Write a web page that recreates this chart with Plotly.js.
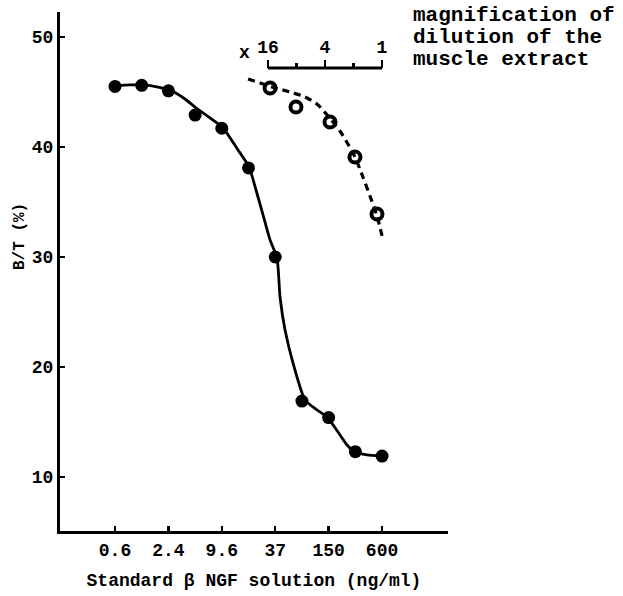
<!DOCTYPE html>
<html>
<head>
<meta charset="utf-8">
<script src="https://cdn.plot.ly/plotly-3.0.1.min.js"></script>
<style>html,body{margin:0;padding:0;background:#fff;}#chart{width:623px;height:596px;}</style>
</head>
<body>
<div id="chart"></div>
<script>
// Standard beta-NGF points (ng/ml, B/T %)
const stdX = [0.6, 1.2, 2.4, 4.8, 9.6, 19.2, 38.4, 76.8, 153.6, 307.2, 614.4];
const stdY = [45.5, 45.6, 45.1, 42.9, 41.7, 38.1, 30.0, 16.9, 15.4, 12.3, 11.9];
// fitted standard curve
const fitX = [0.616, 0.886, 1.241, 1.832, 2.635, 3.693, 4.913, 7.068, 9.90, 14.62, 19.45, 23.32, 27.97, 33.56, 40.23, 43.49, 49.53, 60.95, 83.24, 113.6, 147.3, 206.4, 247.6, 304.8, 416.0, 598.5];
const fitY = [45.55, 45.64, 45.64, 45.45, 45.09, 44.36, 43.55, 42.64, 41.73, 39.73, 38.18, 36.09, 33.82, 31.55, 29.91, 26.36, 23.36, 20.36, 17.0, 16.09, 15.45, 13.82, 12.91, 12.27, 12.0, 11.91];
// muscle extract dilution points (magnification of dilution, B/T %)
const dilX = [15.2, 8.1, 3.54, 1.93, 1.13];
const dilY = [45.36, 43.64, 42.27, 39.09, 33.91];
// dashed curve for the extract
const dilFitX = [26.0, 19.43, 14.52, 9.37, 6.51, 4.74, 3.72, 2.78, 2.29, 1.93, 1.59, 1.34, 1.13, 0.976];
const dilFitY = [46.18, 45.82, 45.45, 45.0, 44.55, 43.82, 42.82, 41.45, 40.27, 39.09, 37.27, 35.55, 33.73, 31.55];
// tick labels
const xTickVals = [0.6, 2.4, 9.6, 38.4, 153.6, 614.4];
const xTickText = ['0.6', '2.4', '9.6', '37', '150', '600'];
const yTickVals = [10, 20, 30, 40, 50];
const dilMajor = [16, 4, 1];
const dilMajorText = ['16', '4', '1'];
const dilMinor = [8, 2];

const FONT = 'Liberation Mono, Courier New, monospace';
const ink = '#000';

const traces = [
  {x: fitX, y: fitY, mode: 'lines', line: {color: ink, width: 2.8, shape: 'spline', smoothing: 0.6}, hoverinfo: 'skip', xaxis: 'x', yaxis: 'y'},
  {x: stdX, y: stdY, mode: 'markers', marker: {color: ink, size: 13, symbol: 'circle'}, cliponaxis: false, xaxis: 'x', yaxis: 'y'},
  {x: dilFitX, y: dilFitY, mode: 'lines', line: {color: ink, width: 3.2, dash: '7px,5px', shape: 'spline', smoothing: 0.7}, hoverinfo: 'skip', xaxis: 'x2', yaxis: 'y'},
  {x: dilX, y: dilY, mode: 'markers', marker: {color: ink, size: 11, symbol: 'circle-open', line: {color: ink, width: 4}}, cliponaxis: false, xaxis: 'x2', yaxis: 'y'}
];

const axPos = 0.892;
const layout = {
  width: 623, height: 596,
  margin: {l: 60, r: 175, t: 12, b: 65},
  paper_bgcolor: '#fff', plot_bgcolor: 'rgba(0,0,0,0)',
  showlegend: false,
  font: {family: FONT, color: ink, size: 18, weight: 'bold'},
  xaxis: {
    type: 'log', range: [-0.842, 3.532],
    tickmode: 'array', tickvals: xTickVals, ticktext: xTickText,
    ticks: 'inside', ticklen: 5, tickwidth: 2.5, tickcolor: ink,
    showline: true, linewidth: 3, linecolor: ink,
    showgrid: false, zeroline: false,
    tickfont: {family: FONT, size: 18, weight: 'bold'},
    title: {text: 'Standard β NGF solution (ng/ml)', font: {family: FONT, size: 18, weight: 'bold'}, standoff: 14},
    domain: [0, 1]
  },
  xaxis2: {
    type: 'log', range: [1.4999, -0.1373],
    domain: [0.4639, 0.8634],
    anchor: 'free', position: axPos, side: 'top',
    tickmode: 'array', tickvals: dilMajor, ticktext: dilMajorText,
    ticks: 'outside', ticklen: 8, tickwidth: 2.5, tickcolor: ink,
    minor: {tickmode: 'array', tickvals: dilMinor, ticks: 'outside', ticklen: 5, tickwidth: 2.5, tickcolor: ink, showgrid: false},
    showline: false, showgrid: false, zeroline: false,
    tickfont: {family: FONT, size: 18, weight: 'bold'},
    ticklabelstandoff: 0
  },
  yaxis: {
    range: [5.09, 52.27],
    tickmode: 'array', tickvals: yTickVals,
    ticks: 'inside', ticklen: 5, tickwidth: 2.5, tickcolor: ink,
    showline: true, linewidth: 3, linecolor: ink,
    showgrid: false, zeroline: false,
    tickfont: {family: FONT, size: 18, weight: 'bold'}
  },
  shapes: [
    {type: 'line', xref: 'x2', yref: 'paper', x0: dilMajor[0], x1: dilMajor[dilMajor.length - 1], y0: axPos, y1: axPos, line: {color: ink, width: 3}}
  ],
  annotations: [
    {xref: 'paper', yref: 'paper', x: (20 - 60) / 388, y: (531 - 237) / 519, text: 'B/T (%)', textangle: -90, showarrow: false, xanchor: 'center', yanchor: 'middle', font: {family: FONT, size: 16, weight: 'bold'}},
    {xref: 'paper', yref: 'paper', x: 0.4768, y: 0.921, text: 'x', showarrow: false, xanchor: 'center', yanchor: 'middle', font: {family: FONT, size: 18, weight: 'bold'}},
    {xref: 'paper', yref: 'paper', x: 0.9046, y: (531 - 15) / 519, text: 'magnification of', showarrow: false, xanchor: 'left', yanchor: 'middle', font: {family: FONT, size: 21, weight: 'bold'}},
    {xref: 'paper', yref: 'paper', x: 0.9046, y: (531 - 37) / 519, text: 'dilution of the', showarrow: false, xanchor: 'left', yanchor: 'middle', font: {family: FONT, size: 21, weight: 'bold'}},
    {xref: 'paper', yref: 'paper', x: 0.9046, y: (531 - 59) / 519, text: 'muscle extract', showarrow: false, xanchor: 'left', yanchor: 'middle', font: {family: FONT, size: 21, weight: 'bold'}}
  ]
};

Plotly.newPlot('chart', traces, layout, {staticPlot: true, displayModeBar: false});
</script>
</body>
</html>
